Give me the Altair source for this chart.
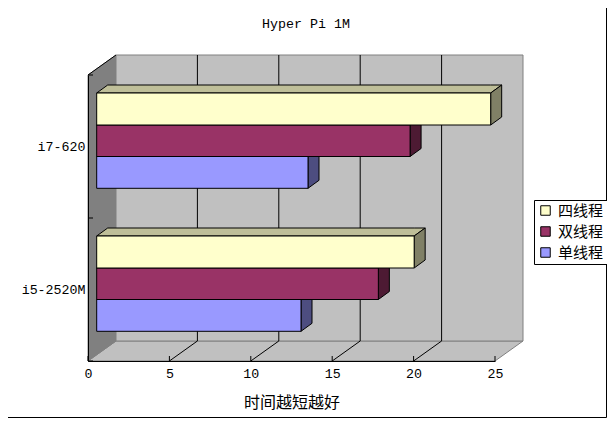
import altair as alt
import pandas as pd

title = "Hyper Pi 1M"
x_title = "时间越短越好"
categories = ["i7-620", "i5-2520M"]
series = ["四线程", "双线程", "单线程"]
values = {
    "四线程": [24.2, 19.5],
    "双线程": [19.25, 17.3],
    "单线程": [12.98, 12.55],
}
front_colors = ["#FFFFCC", "#993366", "#9999FF"]
side_colors = ["#808066", "#4D1A33", "#4D4D80"]
top_colors = ["#BFBF99", "#732650", "#7373BF"]
x_ticks = [0, 5, 10, 15, 20, 25]

# plot frame in pixels, and the oblique projection of the 3-D box
W, H = 407, 286
XMAX, YMAX = 25, 2
ux = XMAX / W
uy = YMAX / H
WALL_DX, WALL_DY = 28 * ux, 20 * uy
BAR_DX, BAR_DY = 11 * ux, 8 * uy
BAR_X0 = 8.7 * ux
GROUP_TOP = [1 + (218 - 93) * uy, (218 - 236) * uy + 1]
BAR_H = [32 * uy, 31.5 * uy, 31.8 * uy]


def rows_area(pts, fill, key):
    return [{"x": a, "y": b, "y2": c, "fill": fill, "key": key} for a, b, c in pts]


layers = []
xs = alt.Scale(domain=[0, XMAX], range=[0, W], nice=False, zero=False)
ys = alt.Scale(domain=[0, YMAX], range=[H, 0], nice=False, zero=False)
label_expr = "datum.value < 1 ? '" + categories[1] + "' : '" + categories[0] + "'"
x_axis = alt.Axis(values=x_ticks, grid=False, ticks=False, domainColor="#000000", domainWidth=1, zindex=1,
                  labelFont="Liberation Mono", labelFontSize=13.3, labelColor="#000000", labelPadding=5,
                  labelFlush=False,
                  titleFont="Noto Sans CJK SC", titleFontSize=16, titleFontWeight="normal",
                  titleColor="#000000", titlePadding=15)
y_axis = alt.Axis(values=[0.5, 1.5], labelExpr=label_expr, grid=False, ticks=False, zindex=1,
                  domainColor="#000000", domainWidth=1,
                  labelFont="Liberation Mono", labelFontSize=13.3, labelColor="#000000", labelPadding=3)
X = alt.X("x:Q", scale=xs, axis=x_axis, title=x_title)
Y = alt.Y("y:Q", scale=ys, axis=y_axis, title=None)


def poly(rows, **mark):
    return alt.Chart(pd.DataFrame(rows)).mark_area(orient="vertical", **mark).encode(
        x=X, y=Y, y2="y2:Q",
        fill=alt.Fill("fill:N", scale=None, legend=None),
        detail="key:N",
    )


def rules(rows, color, width=1):
    return alt.Chart(pd.DataFrame(rows)).mark_rule(color=color, strokeWidth=width).encode(
        x=X, x2="x2:Q", y=Y, y2="y2:Q"
    )


# floor, left wall, back wall
top = YMAX
layers.append(poly(rows_area([(0, 0, 0), (WALL_DX, WALL_DY, 0), (XMAX, WALL_DY, 0), (XMAX + WALL_DX, WALL_DY, WALL_DY)], "#C0C0C0", "floor"), stroke="#808080", strokeWidth=1))
layers.append(poly(rows_area([(0, top, 0), (WALL_DX, top + WALL_DY, WALL_DY)], "#808080", "left"), stroke="#808080", strokeWidth=1))
layers.append(poly(rows_area([(WALL_DX, top + WALL_DY, WALL_DY), (XMAX + WALL_DX, top + WALL_DY, WALL_DY)], "#C0C0C0", "back"), stroke="#808080", strokeWidth=1))

# wall grid, floor diagonals, inward ticks
inner = x_ticks[1:-1]
layers.append(rules([{"x": v + WALL_DX, "x2": v + WALL_DX, "y": WALL_DY, "y2": top + WALL_DY} for v in inner], "#000000"))
layers.append(rules([{"x": v, "x2": v + WALL_DX, "y": 0, "y2": WALL_DY} for v in inner], "#000000"))
layers.append(rules([{"x": v, "x2": v, "y": 0, "y2": 5 * uy} for v in x_ticks], "#000000"))
layers.append(rules([{"x": 0, "x2": 5 * ux, "y": v, "y2": v} for v in [0, 1, 2]], "#000000"))
layers.append(rules([{"x": 0, "x2": WALL_DX, "y": top, "y2": top + WALL_DY}], "#000000"))

# bars, nearest the floor first so upper bars cover the sides below them
for gi, cat in enumerate(categories):
    for si in [2, 1, 0]:
        s = series[si]
        v = values[s][gi]
        yt = GROUP_TOP[gi] - sum(BAR_H[:si])
        yb = yt - BAR_H[si]
        x0, x1 = BAR_X0, BAR_X0 + v
        key = f"{cat}{s}"
        top_rows = rows_area(
            [(x0, yt, yt), (x0 + BAR_DX, yt + BAR_DY, yt), (x1, yt + BAR_DY, yt), (x1 + BAR_DX, yt + BAR_DY, yt + BAR_DY)],
            top_colors[si], key + "t")
        side_rows = rows_area(
            [(x1, yt, yb), (x1 + BAR_DX, yt + BAR_DY, yb + BAR_DY)], side_colors[si], key + "s")
        layers.append(poly(top_rows, stroke="#000000", strokeWidth=1))
        layers.append(poly(side_rows, stroke="#000000", strokeWidth=1))
        front = pd.DataFrame([{"x": x0, "x2": x1, "y": yt, "y2": yb, "series": s}])
        layers.append(alt.Chart(front).mark_rect(stroke="#000000", strokeWidth=1).encode(
            x=X, x2="x2:Q", y=Y, y2="y2:Q",
            color=alt.Color("series:N", sort=None,
                            scale=alt.Scale(domain=series, range=front_colors),
                            legend=alt.Legend(title=None, orient="none", legendX=446, legendY=125,
                                              symbolType="square", symbolSize=90, symbolOffset=1,
                                              symbolStrokeColor="#000000", symbolStrokeWidth=1,
                                              labelFont="Noto Sans CJK SC", labelFontSize=15,
                                              labelColor="#000000", labelOffset=5,
                                              fillColor="#FFFFFF", strokeColor="#000000",
                                              padding=3, rowPadding=5, labelLimit=80)),
        ))

# chart title as a text mark, placed in the data frame
title_df = pd.DataFrame({"x": [(306 - 88) * ux], "y": [top + (75 - 24) * uy], "t": [title]})
layers.append(alt.Chart(title_df).mark_text(font="Liberation Mono", fontSize=13.3, color="#000000",
                                            align="center", baseline="middle").encode(x=X, y=Y, text="t:N"))

# outer frame, right and bottom only, as far out as the page allows
fx = (598.5 - 80) * ux
fy = -(409.5 - 67 - H) * uy
layers.append(rules([{"x": fx, "x2": fx, "y": fy, "y2": top + 67 * uy}], "#000000"))
layers.append(rules([{"x": -80 * ux, "x2": fx, "y": fy, "y2": fy}], "#000000"))

chart = alt.layer(*layers).properties(
    width=W, height=H,
    padding={"left": 80, "top": 67, "right": 112, "bottom": 57},
    autosize=alt.AutoSizeParams(type="none"),
).resolve_scale(color="shared").configure_view(stroke=None).configure(background="#FFFFFF")

chart.save("out.html", embed_options={"renderer": "svg", "actions": False})
